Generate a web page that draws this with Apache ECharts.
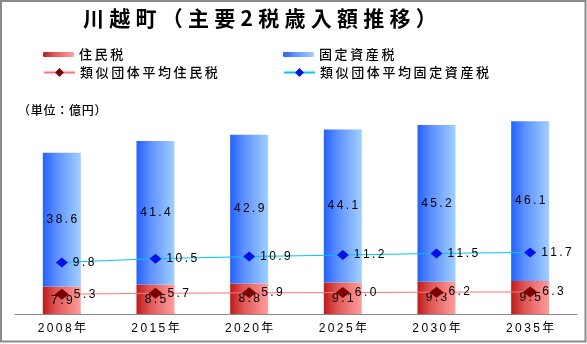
<!DOCTYPE html>
<html>
<head>
<meta charset="utf-8">
<script src="https://cdn.jsdelivr.net/npm/echarts@6/dist/echarts.min.js"></script>
<style>
  html, body { margin: 0; padding: 0; background: #fff; }
  #chart { width: 587px; height: 344px; }
</style>
</head>
<body>
<div id="chart"></div>
<script>
// 川越町 主要2税の歳入額（億円）
const years = ['2008年', '2015年', '2020年', '2025年', '2030年', '2035年'];
const residentTax = [7.9, 8.5, 8.8, 9.1, 9.3, 9.5];
const propertyTax = [38.6, 41.4, 42.9, 44.1, 45.2, 46.1];
const peerResidentAvg = [5.3, 5.7, 5.9, 6.0, 6.2, 6.3];
const peerPropertyAvg = [9.8, 10.5, 10.9, 11.2, 11.5, 11.7];

const FONT = "'Liberation Sans', 'Noto Sans CJK JP', sans-serif";
const CJK = "'Noto Sans CJK JP', sans-serif";

// widen text by putting a small space between characters
function spaced(str, gap) {
  return Array.from(String(str)).join(gap);
}
const THIN = '\u2009';
const FOUR = '\u2005';

const redFill = new echarts.graphic.LinearGradient(0, 0, 1, 0, [
  { offset: 0, color: '#BE1A1A' },
  { offset: 0.35, color: '#E05656' },
  { offset: 1, color: '#FF9E9E' }
]);
const blueFill = new echarts.graphic.LinearGradient(0, 0, 1, 0, [
  { offset: 0, color: '#2262FF' },
  { offset: 0.35, color: '#5C8EFF' },
  { offset: 1, color: '#A0D0FF' }
]);

const legendBase = {
  orient: 'horizontal',
  padding: 0,
  itemWidth: 31,
  itemGap: 0,
  selectedMode: false,
  textStyle: { color: '#000', fontSize: 13, fontFamily: CJK, fontWeight: 500 },
  formatter: name => spaced(name, THIN)
};

const chart = echarts.init(document.getElementById('chart'), null, { renderer: 'canvas' });
chart.setOption({
  animation: false,
  backgroundColor: '#fff',
  title: {
    text: spaced('川越町（主要2税歳入額推移）', FOUR),
    left: 78,
    top: 3,
    textStyle: { fontSize: 21, fontWeight: 'bold', color: '#000', fontFamily: CJK }
  },
  legend: [
    Object.assign({}, legendBase, { data: ['住民税'], left: 43, top: 48, itemHeight: 5 }),
    Object.assign({}, legendBase, { data: ['固定資産税'], left: 283, top: 48, itemHeight: 5 }),
    Object.assign({}, legendBase, { data: ['類似団体平均住民税'], left: 43, top: 66, itemHeight: 11 }),
    Object.assign({}, legendBase, { data: ['類似団体平均固定資産税'], left: 283, top: 66, itemHeight: 11 })
  ],
  graphic: [
    {
      type: 'rect',
      shape: { x: 1, y: 1, width: 584.5, height: 340.5 },
      style: { fill: null, stroke: '#8a8a8a', lineWidth: 2 },
      silent: true
    },
    {
      type: 'text',
      left: 18,
      top: 104,
      style: { text: spaced('（単位：億円）', '\u200A'), fill: '#000', font: '500 12px ' + CJK }
    }
  ],
  grid: { left: 15, right: 10, top: 106, bottom: 30, containLabel: false },
  xAxis: {
    type: 'category',
    data: years,
    axisTick: { show: false },
    axisLine: { lineStyle: { color: '#888', width: 1 } },
    axisLabel: {
      color: '#000', fontSize: 12, fontFamily: FONT, margin: 9,
      formatter: v => spaced(v, THIN)
    }
  },
  yAxis: [
    { type: 'value', min: 0, max: 60, show: false, splitLine: { show: false } },
    { type: 'value', min: 0, max: 39.5, show: false, splitLine: { show: false } },
    { type: 'value', min: -3.3, max: 87.1, show: false, splitLine: { show: false } }
  ],
  series: [
    {
      name: '住民税',
      type: 'bar',
      stack: 'tax',
      barWidth: 38,
      data: residentTax,
      itemStyle: { color: redFill },
      label: {
        show: true, position: 'inside', color: '#000', fontSize: 12, fontFamily: FONT,
        formatter: p => spaced(p.value.toFixed(1), THIN)
      }
    },
    {
      name: '固定資産税',
      type: 'bar',
      stack: 'tax',
      barWidth: 38,
      data: propertyTax,
      itemStyle: { color: blueFill },
      label: {
        show: true, position: 'inside', color: '#000', fontSize: 12, fontFamily: FONT,
        formatter: p => spaced(p.value.toFixed(1), THIN)
      }
    },
    {
      name: '類似団体平均住民税',
      type: 'line',
      yAxisIndex: 2,
      data: peerResidentAvg,
      symbol: 'diamond',
      symbolSize: [14, 11],
      lineStyle: { color: '#FF7373', width: 1 },
      itemStyle: { color: '#7A0000' },
      z: 5,
      label: {
        show: true, position: 'right', distance: 5, color: '#000', fontSize: 12, fontFamily: FONT,
        formatter: p => spaced(p.value.toFixed(1), THIN)
      }
    },
    {
      name: '類似団体平均固定資産税',
      type: 'line',
      yAxisIndex: 1,
      data: peerPropertyAvg,
      symbol: 'diamond',
      symbolSize: [12, 10],
      lineStyle: { color: '#00C8F8', width: 1 },
      itemStyle: { color: '#0010E8' },
      z: 5,
      label: {
        show: true, position: 'right', distance: 5, color: '#000', fontSize: 12, fontFamily: FONT,
        formatter: p => spaced(p.value.toFixed(1), THIN)
      }
    }
  ]
});
</script>
</body>
</html>
